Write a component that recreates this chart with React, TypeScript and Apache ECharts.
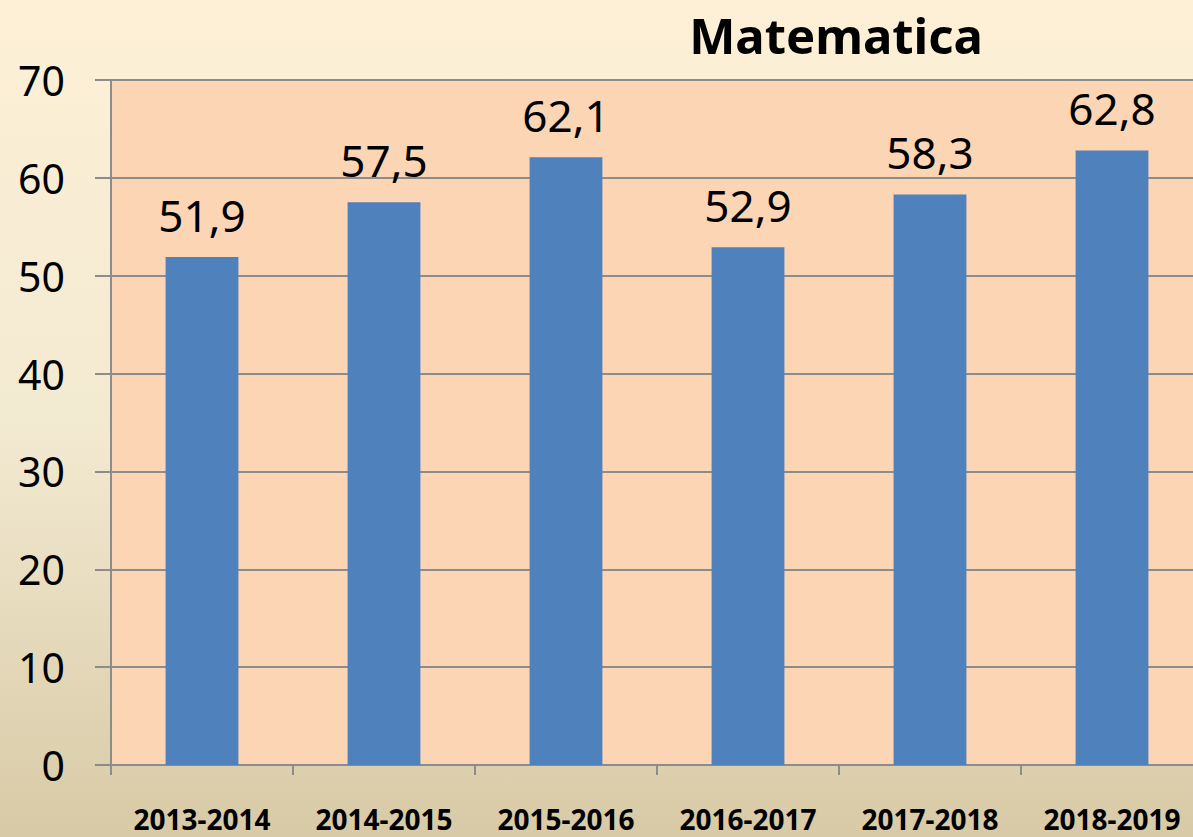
import React, { useEffect, useRef } from "react";
import * as echarts from "echarts";

const categories = ["2013-2014", "2014-2015", "2015-2016", "2016-2017", "2017-2018", "2018-2019"];
const values = [51.9, 57.5, 62.1, 52.9, 58.3, 62.8];
const title = "Matematica";
const FONT = "'Noto Sans', sans-serif";

export default function App() {
  const ref = useRef<HTMLDivElement>(null);
  useEffect(() => {
    if (!ref.current) return;
    const chart = echarts.init(ref.current, null, { renderer: "svg" });
    chart.setOption({
      animation: false,
      backgroundColor: new echarts.graphic.LinearGradient(0, 0, 0, 1, [
        { offset: 0, color: "#FDF0D6" },
        { offset: 0.5, color: "#F3EAD2" },
        { offset: 1, color: "#D8CAA6" },
      ]),
      title: {
        text: title,
        left: 831,
        top: 5,
        textAlign: "center",
        textStyle: { fontFamily: FONT, fontWeight: "bold", fontSize: 49, color: "#000" },
      },
      grid: {
        left: 111,
        top: 80,
        width: 1092,
        bottom: 72,
        show: true,
        backgroundColor: "#FCD5B5",
        borderWidth: 0,
      },
      xAxis: {
        type: "category",
        data: categories,
        axisLine: { show: true, lineStyle: { color: "#8C8C8C", width: 2 } },
        axisTick: { show: true, length: 10, lineStyle: { color: "#8C8C8C", width: 2 } },
        axisLabel: {
          fontFamily: FONT,
          fontWeight: "bold",
          fontSize: 28,
          color: "#000",
          margin: 40,
          interval: 0,
        },
      },
      yAxis: {
        type: "value",
        min: 0,
        max: 70,
        interval: 10,
        axisLine: { show: true, lineStyle: { color: "#8C8C8C", width: 2 } },
        axisTick: { show: true, length: 16, lineStyle: { color: "#8C8C8C", width: 2 } },
        splitLine: { show: true, lineStyle: { color: "#8C8C8C", width: 2 } },
        axisLabel: { fontFamily: FONT, fontSize: 41, color: "#000", margin: 46 },
      },
      series: [
        {
          type: "bar",
          data: values,
          barCategoryGap: "60%",
          itemStyle: { color: "#4F81BD" },
          label: {
            show: true,
            position: "top",
            distance: 20,
            fontFamily: FONT,
            fontSize: 44,
            color: "#000",
            formatter: (p: any) => String(p.value.toFixed(1)).replace(".", ","),
          },
        },
      ],
    });
    return () => chart.dispose();
  }, []);
  return (
    <div style={{ position: "fixed", left: 0, top: 0, width: 1193, height: 837, overflow: "hidden" }}>
      <div ref={ref} style={{ width: 1215, height: 837 }} />
    </div>
  );
}
